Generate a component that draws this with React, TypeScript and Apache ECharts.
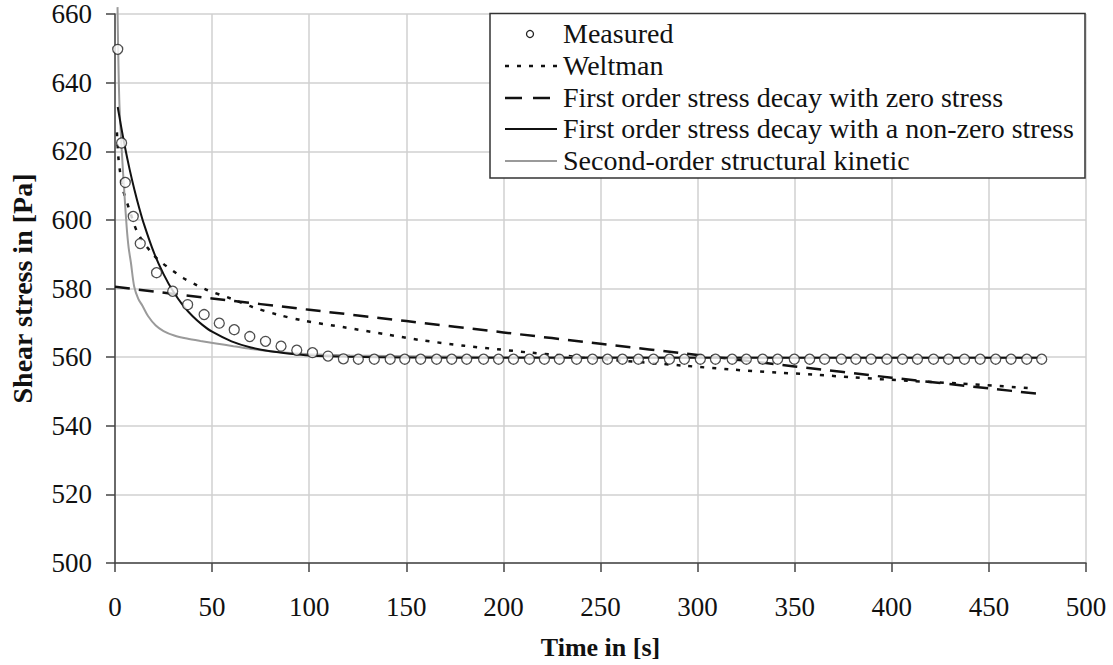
import React, { useEffect, useRef } from "react";
import * as echarts from "echarts";

// Measured data points
const measuredTime = [
  1.4, 3.4, 5.3, 9.4, 13.0, 21.4, 29.7, 37.4, 45.9, 53.7, 61.4, 69.4, 77.5, 85.5, 93.6, 101.7, 109.7, 117.6,
  125.3, 133.5, 141.7, 149.2, 157.4, 165.6, 173.4, 181.1, 189.8, 197.5,
  205.2, 213.4, 221.1, 228.8, 237.7, 245.9, 253.6, 261.3, 269.5, 277.3,
  285.5, 293.2, 301.4, 309.2, 317.8, 325.1, 333.5, 341.2, 349.8, 357.7,
  365.4, 374.0, 381.5, 389.3, 397.5, 405.5, 413.2, 421.5, 429.2, 437.4,
  445.5, 453.5, 461.4, 469.5, 477.2,
];
const measuredStress = [
  649.7, 622.4, 610.9, 601.0, 593.1, 584.6, 579.2, 575.3, 572.4, 569.9, 568.0, 566.0, 564.6, 563.2, 562.0, 561.3, 560.3, 559.5,
  559.4, 559.4, 559.4, 559.4, 559.4, 559.4, 559.4, 559.4, 559.4, 559.4,
  559.4, 559.4, 559.4, 559.4, 559.4, 559.4, 559.4, 559.4, 559.4, 559.4,
  559.4, 559.4, 559.4, 559.4, 559.4, 559.4, 559.4, 559.4, 559.4, 559.4,
  559.4, 559.4, 559.4, 559.4, 559.4, 559.4, 559.4, 559.4, 559.4, 559.4,
  559.4, 559.4, 559.4, 559.4, 559.4,
];

// Weltman model (dotted)
const weltmanTime = [1, 1.7, 2.6, 4, 7.4, 11.7, 19.4, 24.2, 29.7, 35.3, 41.3, 46.8, 60, 70.8, 83.7, 96.5, 118, 140, 157, 180, 197, 214, 250, 293, 317, 341, 360, 380, 408, 435, 473];
const weltmanStress = [625.5, 618.5, 614, 609, 603, 596.2, 590, 587.5, 585.2, 583, 581.2, 579.7, 577, 574.6, 572.4, 570.7, 568.7, 566.6, 565, 563.3, 562.3, 561.3, 559.5, 557.5, 556.4, 555.5, 554.9, 554.1, 553.1, 552.3, 550.9];

// First order stress decay with zero stress (dashed)
const zeroTime = [0, 50, 100, 150, 200, 250, 300, 350, 400, 450, 477];
const zeroStress = [580.5, 577.1, 573.8, 570.5, 567.2, 563.9, 560.6, 557.3, 554.0, 550.9, 549.2];

// First order stress decay with a non-zero stress (solid)
const nonZeroTime = [1.4, 3, 5, 7.5, 10, 12.5, 15, 20, 25, 30, 35, 40, 45, 50, 60, 70, 80, 90, 100, 120, 150, 200, 250, 300, 350, 400, 450, 477];
const nonZeroStress = [632.9, 627.7, 621.6, 614.8, 608.8, 603.4, 598.6, 590.5, 584.2, 579.1, 575.1, 571.9, 569.4, 567.4, 564.6, 562.8, 561.7, 561.0, 560.5, 560.1, 559.9, 559.8, 559.8, 559.8, 559.8, 559.8, 559.8, 559.8];

// Second-order structural kinetic (grey)
const secondTime = [1.3, 2.2, 3.5, 4.8, 6, 7, 8.2, 9.9, 12, 14.2, 17, 21, 25, 30.5, 37, 44, 52, 61, 70, 78.5, 95.7, 121, 160, 200, 300, 400, 477];
const secondStress = [662, 635, 620, 608, 598, 592, 587.5, 580.5, 577, 574.9, 572, 569.2, 567.6, 566.3, 565.4, 564.7, 564, 563.2, 562.4, 561.8, 561, 560.5, 560.2, 560, 559.9, 559.8, 559.8];

const legendLabels = [
  "Measured",
  "Weltman",
  "First order stress decay with zero stress",
  "First order stress decay with a non-zero stress",
  "Second-order structural kinetic",
];

const zip = (a: number[], b: number[]) => a.map((v, i) => [v, b[i]]);

const FONT = "Liberation Serif";

export default function App() {
  const ref = useRef<HTMLDivElement>(null);
  useEffect(() => {
    if (!ref.current) return;
    const chart = echarts.init(ref.current, undefined, { renderer: "svg" });
    const rowY = [34, 66, 98, 129, 161];
    const iconX1 = 505;
    const iconX2 = 557;
    const legendGraphics: any[] = [
      {
        type: "rect",
        z: 100,
        shape: { x: 490, y: 13.5, width: 595, height: 164.5 },
        style: { fill: "#fff", stroke: "#333", lineWidth: 1.5 },
      },
      {
        type: "circle",
        z: 101,
        shape: { cx: 530, cy: rowY[0], r: 3.5 },
        style: { fill: "#fff", stroke: "#222", lineWidth: 1.3 },
      },
      {
        type: "line",
        z: 101,
        shape: { x1: iconX1, y1: rowY[1], x2: iconX2, y2: rowY[1] },
        style: { stroke: "#111", lineWidth: 2.5, lineDash: [4, 8] },
      },
      {
        type: "line",
        z: 101,
        shape: { x1: iconX1, y1: rowY[2], x2: iconX2 - 4, y2: rowY[2] },
        style: { stroke: "#111", lineWidth: 2.5, lineDash: [17, 11] },
      },
      {
        type: "line",
        z: 101,
        shape: { x1: iconX1, y1: rowY[3], x2: iconX2, y2: rowY[3] },
        style: { stroke: "#111", lineWidth: 2 },
      },
      {
        type: "line",
        z: 101,
        shape: { x1: iconX1, y1: rowY[4], x2: iconX2, y2: rowY[4] },
        style: { stroke: "#9a9a9a", lineWidth: 2 },
      },
      ...legendLabels.map((t, i) => ({
        type: "text",
        z: 101,
        x: 563,
        y: rowY[i] - 1,
        style: {
          text: t,
          fontSize: 28,
          fontFamily: FONT,
          fill: "#111",
          align: "left",
          verticalAlign: "middle",
        },
      })),
    ];

    chart.setOption({
      animation: false,
      backgroundColor: "#fff",
      textStyle: { fontFamily: FONT },
      grid: { left: 114, right: 27, top: 14, bottom: 101 },
      xAxis: {
        type: "value",
        min: 0,
        max: 500,
        interval: 50,
        name: "Time in [s]",
        nameLocation: "middle",
        nameGap: 71,
        nameTextStyle: { fontFamily: FONT, fontSize: 26, fontWeight: "bold", color: "#111" },
        axisLine: { show: true, onZero: false, lineStyle: { color: "#444", width: 1.5 } },
        axisTick: { show: true, inside: false, length: 9, lineStyle: { color: "#444", width: 1.5 } },
        axisLabel: { fontFamily: FONT, fontSize: 27, color: "#111", margin: 30 },
        splitLine: { show: true, lineStyle: { color: "#d0d0d0", width: 1.5 } },
      },
      yAxis: {
        type: "value",
        min: 500,
        max: 660,
        interval: 20,
        name: "Shear stress in [Pa]",
        nameLocation: "middle",
        nameGap: 79,
        nameTextStyle: { fontFamily: FONT, fontSize: 28, fontWeight: "bold", color: "#111" },
        axisLine: { show: true, lineStyle: { color: "#444", width: 1.5 } },
        axisTick: { show: true, inside: false, length: 9, lineStyle: { color: "#444", width: 1.5 } },
        axisLabel: { fontFamily: FONT, fontSize: 27, color: "#111", margin: 23 },
        splitLine: { show: true, lineStyle: { color: "#d0d0d0", width: 1.5 } },
      },
      series: [
        {
          name: legendLabels[1],
          type: "line",
          data: zip(weltmanTime, weltmanStress),
          showSymbol: false,
          symbol: "none",
          smooth: 0.3,
          lineStyle: { color: "#111", width: 2.5, type: [4, 8], cap: "butt" },
          z: 3,
        },
        {
          name: legendLabels[2],
          type: "line",
          data: zip(zeroTime, zeroStress),
          showSymbol: false,
          symbol: "none",
          smooth: 0.3,
          lineStyle: { color: "#111", width: 2.5, type: [15, 9] },
          z: 3,
        },
        {
          name: legendLabels[4],
          type: "line",
          data: zip(secondTime, secondStress),
          showSymbol: false,
          symbol: "none",
          smooth: 0.3,
          clip: false,
          lineStyle: { color: "#9a9a9a", width: 2 },
          z: 3,
        },
        {
          name: legendLabels[3],
          type: "line",
          data: zip(nonZeroTime, nonZeroStress),
          showSymbol: false,
          symbol: "none",
          smooth: 0.3,
          lineStyle: { color: "#111", width: 2 },
          z: 4,
        },
        {
          name: legendLabels[0],
          type: "scatter",
          data: zip(measuredTime, measuredStress),
          symbol: "circle",
          symbolSize: 10,
          itemStyle: { color: "#fff", borderColor: "#222", borderWidth: 1.3 },
          z: 5,
        },
      ],
      graphic: legendGraphics,
    });
    return () => chart.dispose();
  }, []);
  return (
    <div
      ref={ref}
      style={{ position: "fixed", left: 0, top: 0, width: 1113, height: 665, background: "#fff" }}
    />
  );
}
